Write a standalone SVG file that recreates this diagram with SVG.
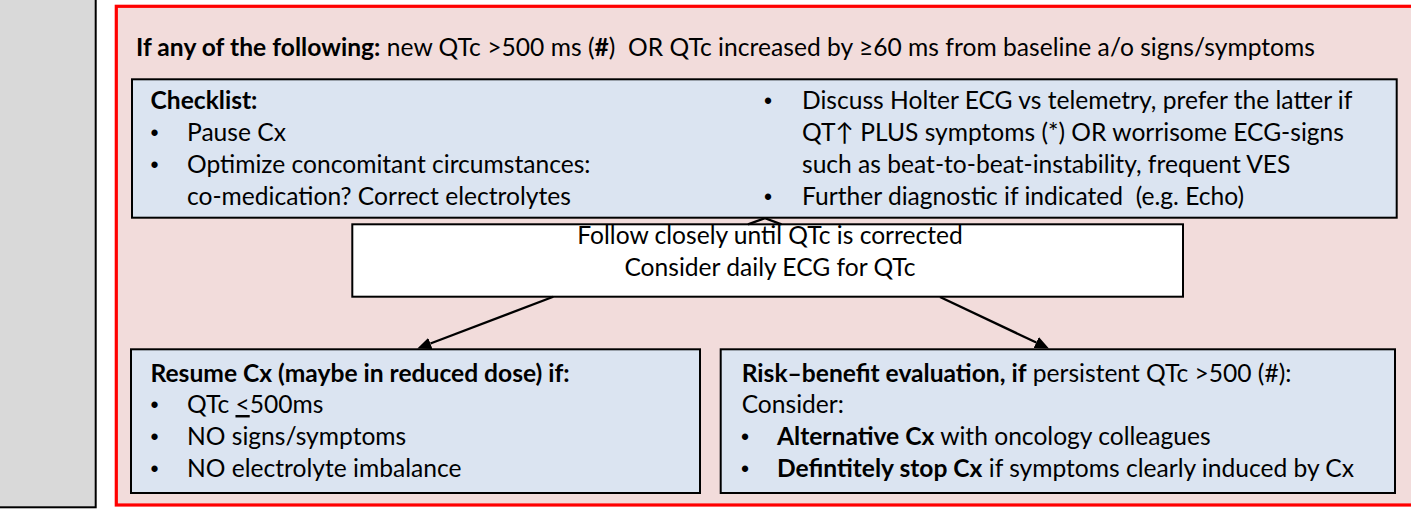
<svg xmlns="http://www.w3.org/2000/svg" width="1411" height="511" viewBox="0 0 1411 511">
  <style>
    .t { font-family: Lato, 'Liberation Sans', sans-serif; font-size: 24.6px; fill: #000; }
    .b { font-weight: bold; }
    .bul { font-family: 'Liberation Sans', sans-serif; font-size: 23px; fill: #000; text-anchor: middle; }
    .box { fill: #dbe4f1; stroke: #000; stroke-width: 2; }
    .conn { stroke: #000; stroke-width: 2.3; fill: none; }
  </style>
  <defs>
    <marker id="head" viewBox="0 0 14 12" markerWidth="14" markerHeight="12" refX="0" refY="6" orient="auto" markerUnits="userSpaceOnUse">
      <path d="M0,0 L14,6 L0,12 z" fill="#000"/>
    </marker>
  </defs>

  <rect width="1411" height="511" fill="#ffffff"/>

  <!-- side panel -->
  <g id="side-panel">
    <rect x="-5" y="-5" width="100.7" height="512.3" fill="#d9d9d9" stroke="#000" stroke-width="2"/>
  </g>

  <!-- red frame with trigger condition -->
  <g id="alert-frame">
    <rect x="116.3" y="6.3" width="1320" height="498.7" fill="#f2dcdb" stroke="#ff0000" stroke-width="3.2"/>
    <text class="t" x="136" y="56" xml:space="preserve" textLength="1179" lengthAdjust="spacing"><tspan class="b">If any of the following:</tspan> new QTc &gt;500 ms (<tspan class="b">#</tspan>)  OR QTc increased by ≥60 ms from baseline a/o signs/symptoms</text>
  </g>

  <!-- checklist -->
  <g id="checklist">
    <rect class="box" x="132" y="79.3" width="1264.7" height="138.4"/>
    <text class="t b" x="150.5" y="108.7">Checklist:</text>
    <text class="bul" x="154.5" y="140.7">•</text>
    <text class="t" x="187" y="140.7">Pause Cx</text>
    <text class="bul" x="154.5" y="172.7">•</text>
    <text class="t" x="187" y="172.7">Optimize concomitant circumstances:</text>
    <text class="t" x="187" y="204.7">co-medication? Correct electrolytes</text>
    <text class="bul" x="768" y="108.7">•</text>
    <text class="t" x="802" y="108.7">Discuss Holter ECG vs telemetry, prefer the latter if</text>
    <text class="t" x="802" y="140.7">QT↑ PLUS symptoms (*) OR worrisome ECG-signs</text>
    <text class="t" x="802" y="172.7">such as beat-to-beat-instability, frequent VES</text>
    <text class="bul" x="768" y="204.7">•</text>
    <text class="t" x="802" y="204.7" xml:space="preserve">Further diagnostic if indicated  (e.g. Echo)</text>
  </g>

  <!-- follow-up box -->
  <g id="follow-up">
    <rect x="352.3" y="224.3" width="830.7" height="72.4" fill="#ffffff" stroke="#000" stroke-width="2"/>
    <text class="t" x="770" y="244.3" text-anchor="middle">Follow closely until QTc is corrected</text>
    <text class="t" x="770" y="276.3" text-anchor="middle">Consider daily ECG for QTc</text>
  </g>

  <!-- resume branch -->
  <g id="resume">
    <rect class="box" x="131" y="349.3" width="569" height="143.7"/>
    <text class="t b" x="150.5" y="381.5">Resume Cx (maybe in reduced dose) if:</text>
    <text class="bul" x="154.5" y="413">•</text>
    <text class="t" x="187" y="413">QTc <tspan text-decoration="underline">&lt;</tspan>500ms</text>
    <text class="bul" x="154.5" y="444.5">•</text>
    <text class="t" x="187" y="444.5">NO signs/symptoms</text>
    <text class="bul" x="154.5" y="476.5">•</text>
    <text class="t" x="187" y="476.5">NO electrolyte imbalance</text>
  </g>

  <!-- risk-benefit branch -->
  <g id="risk-benefit">
    <rect class="box" x="720.7" y="349.3" width="674.3" height="143.7"/>
    <text class="t" x="741.7" y="381.5"><tspan class="b">Risk–benefit evaluation, if</tspan> persistent QTc &gt;500 (#):</text>
    <text class="t" x="741.7" y="413">Consider:</text>
    <text class="bul" x="745" y="444.5">•</text>
    <text class="t" x="777" y="444.5"><tspan class="b">Alternative Cx</tspan> with oncology colleagues</text>
    <text class="bul" x="745" y="476.5">•</text>
    <text class="t" x="777" y="476.5"><tspan class="b">Defintitely stop Cx</tspan> if symptoms clearly induced by Cx</text>
  </g>

  <!-- connectors -->
  <g id="connectors">
    <polyline class="conn" points="748,224.3 765,218.2 781.5,224.3" stroke-width="2"/>
    <path class="conn" d="M553.3,296.7 L430.4,343.5" marker-end="url(#head)"/>
    <path class="conn" d="M940,297 L1036.3,342.5" marker-end="url(#head)"/>
  </g>
</svg>
